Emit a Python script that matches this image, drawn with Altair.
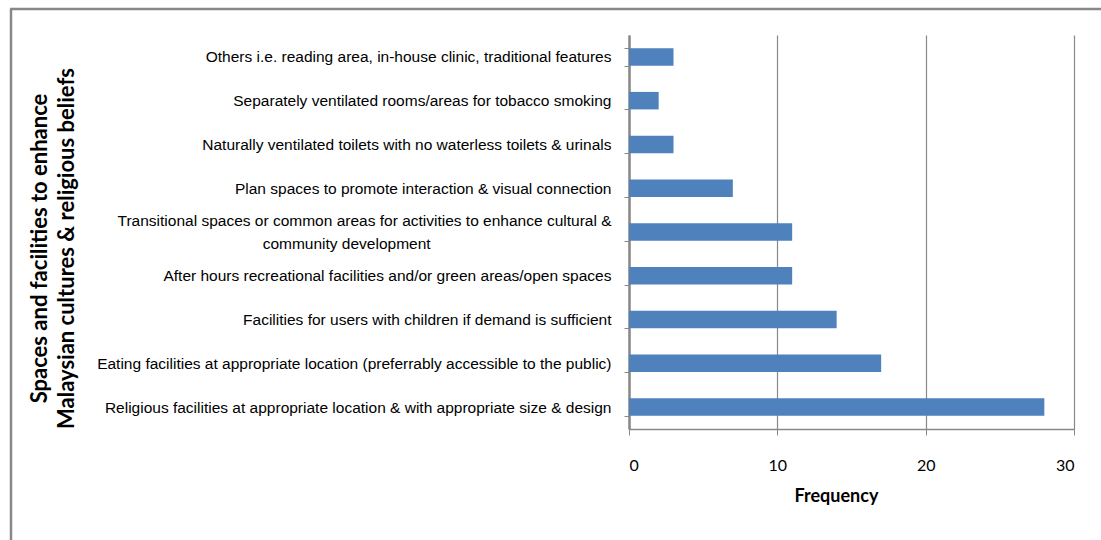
import altair as alt
import pandas as pd

categories = [
    "Others i.e. reading area, in-house clinic, traditional features",
    "Separately ventilated rooms/areas for tobacco smoking",
    "Naturally ventilated toilets with no waterless toilets & urinals",
    "Plan spaces to promote interaction & visual connection",
    "Transitional spaces or common areas for activities to enhance cultural & community development",
    "After hours recreational facilities and/or green areas/open spaces",
    "Facilities for users with children if demand is sufficient",
    "Eating facilities at appropriate location (preferrably accessible to the public)",
    "Religious facilities at appropriate location & with appropriate size & design",
]
values = [3, 2, 3, 7, 11, 11, 14, 17, 28]
x_ticks = [0, 10, 20, 30]

df = pd.DataFrame({"cat": categories, "freq": values})

W, H = 445, 394
PL, PT = 629, 35

long_label = categories[4]
pad = "\u00a0" * 42 + "\u200c"
label_expr = (
    f"datum.value == '{long_label}'"
    " ? ['Transitional spaces or common areas for activities to enhance cultural &', 'community development" + pad + "']"
    " : datum.value"
)

bars = alt.Chart(df).mark_bar(color="#4F81BD").encode(
    x=alt.X(
        "freq:Q",
        scale=alt.Scale(domain=[0, 30], nice=False),
        axis=alt.Axis(
            values=x_ticks,
            title="Frequency",
            titleFont="Lato",
            titleFontSize=18,
            titleFontWeight="bold",
            titleColor="#000000",
            titleX=207,
            titleY=72,
            titleBaseline="alphabetic",
            labelFont="Lato",
            labelFontSize=16,
            labelColor="#000000",
            labelPadding=22,
            tickSize=6,
            tickColor="#888888",
            domainColor="#888888",
            domainWidth=1.5,
            grid=True,
            gridColor="#888888",
            gridWidth=1.2,
        ),
    ),
    y=alt.Y(
        "cat:N",
        sort=categories,
        scale=alt.Scale(paddingInner=0.6, paddingOuter=0.3),
        axis=alt.Axis(
            title=["Spaces and facilities to enhance", "Malaysian cultures & religious beliefs"],
            titleFont="Lato",
            titleFontSize=22,
            titleFontWeight="bold",
            titleColor="#000000",
            titleAngle=-90,
            titleX=39 - PL,
            titleY=213,
            titleBaseline="middle",
            titleAlign="center",
            titleLineHeight=27,
            labelExpr=label_expr,
            labelFont="Liberation Sans",
            labelFontSize=15.5,
            labelColor="#000000",
            labelLimit=600,
            labelPadding=13,
            labelLineHeight=23,
            labelBaseline={
                "condition": {"test": f"datum.value == '{long_label}'", "value": "line-bottom"},
                "value": "middle",
            },
            tickBand="extent",
            tickSize=5,
            tickColor="#888888",
            domainColor="#888888",
            domainWidth=2.5,
            grid=False,
        ),
    ),
)

border_top = alt.Chart().mark_rule(color="#888888", strokeWidth=2.5).encode(
    x=alt.value(10 - PL), x2=alt.value(1101 - PL), y=alt.value(9 - PT)
)
border_left = alt.Chart().mark_rule(color="#888888", strokeWidth=2.5).encode(
    x=alt.value(11 - PL), y=alt.value(9 - PT), y2=alt.value(540 - PT)
)

chart = (
    alt.layer(bars, border_top, border_left)
    .properties(
        width=W,
        height=H,
        autosize=alt.AutoSizeParams(type="none"),
        padding={"left": PL, "top": PT, "right": 1101 - PL - W, "bottom": 540 - PT - H},
        background="#ffffff",
    )
    .configure_view(stroke=None, clip=False)
)

chart.save("out.html", embed_options={"renderer": "svg", "actions": False})
